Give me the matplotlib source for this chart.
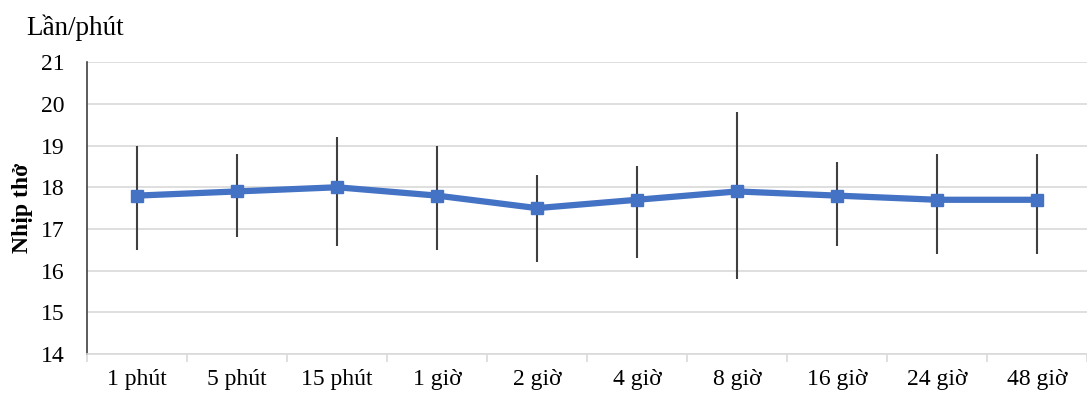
import matplotlib
matplotlib.use('Agg')
import matplotlib.pyplot as plt
import numpy as np

# dữ liệu
categories = ['1 phút', '5 phút', '15 phút', '1 giờ', '2 giờ', '4 giờ', '8 giờ', '16 giờ', '24 giờ', '48 giờ']
values = [17.8, 17.9, 18.0, 17.8, 17.5, 17.7, 17.9, 17.8, 17.7, 17.7]
upper = [19.0, 18.8, 19.2, 19.0, 18.3, 18.5, 19.8, 18.6, 18.8, 18.8]
lower = [16.5, 16.8, 16.6, 16.5, 16.2, 16.3, 15.8, 16.6, 16.4, 16.4]

plt.rcParams['font.family'] = ['Liberation Serif', 'DejaVu Serif']

fig = plt.figure(figsize=(10.87, 4.01), dpi=100)
ax = fig.add_axes([0.080, 0.117, 0.92, 0.728])

x = np.arange(len(categories))
vals = np.array(values)
yerr = [vals - np.array(lower), np.array(upper) - vals]

ax.errorbar(x, vals, yerr=yerr, fmt='none', ecolor='#404040', elinewidth=1.5, capsize=0, zorder=2)
ax.plot(x, vals, color='#4472C4', linewidth=4.5, marker='s', markersize=8, zorder=3)

ax.set_xlim(-0.5, len(categories) - 0.5)
ax.set_ylim(14, 21)
ax.set_yticks(range(14, 22))
ax.grid(axis='y', color='#D9D9D9', linewidth=1.2, zorder=0)
ax.set_axisbelow(True)

ax.set_xticks(x)
ax.set_xticklabels(categories, fontsize=17)
ax.set_xticks(np.arange(-0.5, len(categories), 1), minor=True)
ax.tick_params(axis='x', which='major', length=0, pad=11)
ax.tick_params(axis='x', which='minor', length=6, color='#D9D9D9', width=1.2)
ax.tick_params(axis='y', length=0, labelsize=17, pad=16)

for s in ['top', 'right']:
    ax.spines[s].set_visible(False)
ax.spines['left'].set_color('#404040')
ax.spines['left'].set_linewidth(1.2)
ax.spines['bottom'].set_color('#D9D9D9')
ax.spines['bottom'].set_linewidth(1.2)

ax.set_ylabel('Nhịp thở', fontsize=17, fontweight='bold', labelpad=6)
fig.text(0.024, 0.93, 'Lần/phút', fontsize=19.5, ha='left', va='center')

fig.savefig('out.png', dpi=100)
